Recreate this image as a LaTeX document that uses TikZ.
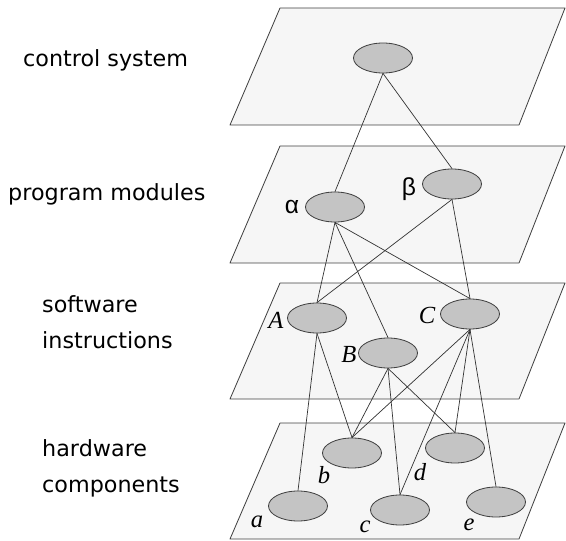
\documentclass[tikz,border=0pt]{standalone}
\usepackage{fontspec}
\setmainfont{DejaVu Sans}
\newfontfamily\tagfont{Liberation Serif}
\newfontfamily\greekfont{Liberation Sans}
\usepackage{tkz-euclide}
\usepackage{tikz}
\usetikzlibrary{shapes.geometric}

\tikzset{
  plane/.style={draw=black!75, fill=gray!7, line width=0.7pt},
  comp/.style={ellipse, draw=black!75, fill=gray!46, line width=0.7pt,
    minimum width=1.77cm, minimum height=0.9cm, inner sep=0pt},
  link/.style={color=black!80, line width=0.6pt},
  layer/.style={font=\fontsize{19}{30.6}\selectfont, align=left, anchor=west, inner sep=0pt},
  tag/.style={font=\tagfont\itshape\fontsize{21}{24}\selectfont, inner sep=0pt},
  greek/.style={font=\greekfont\fontsize{21}{24}\selectfont, inner sep=0pt}
}

\begin{document}
\begin{tikzpicture}[x=0.03cm, y=-0.03cm]
    \useasboundingbox (0,0) rectangle (566,541);
    % the four planes
    \tkzDefPoints{230/125/Pa,519/125/Pb,565/8/Pc,280/8/Pd}
    \tkzDefPoints{230/263/Qa,519/263/Qb,565/146/Qc,280/146/Qd}
    \tkzDefPoints{230/399/Ra,519/399/Rb,565/283/Rc,280/283/Rd}
    \tkzDefPoints{230/539/Sa,519/539/Sb,565/423/Sc,280/423/Sd}
    \tkzDrawPolygon[plane](Pa,Pb,Pc,Pd)
    \tkzDrawPolygon[plane](Qa,Qb,Qc,Qd)
    \tkzDrawPolygon[plane](Ra,Rb,Rc,Rd)
    \tkzDrawPolygon[plane](Sa,Sb,Sc,Sd)
    % layer names
    \node[layer] (lctrl) at (23,60) {control system};
    \node[layer] (lprog) at (8,194) {program modules};
    \node[layer] (lsoft) at (42,322) {software\\instructions};
    \node[layer] (lhard) at (42,468) {hardware\\components};
    % components
    \node[comp] (sys) at (383,58) {};
    \node[comp] (alpha) at (335,207) {};
    \node[comp] (beta) at (452,184) {};
    \node[comp] (A) at (317,318) {};
    \node[comp] (B) at (388,353) {};
    \node[comp] (C) at (470,314) {};
    \node[comp] (a) at (298,506) {};
    \node[comp] (b) at (352,453) {};
    \node[comp] (c) at (400,510) {};
    \node[comp] (d) at (455,448) {};
    \node[comp] (e) at (496,502) {};
    % letters
    \node[greek] (talpha) at (292,207) {α};
    \node[greek] (tbeta) at (409,189) {β};
    \node[tag] (tA) at (276,320) {A};
    \node[tag] (tB) at (349,354) {B};
    \node[tag] (tC) at (427,315) {C};
    \node[tag] (ta) at (257,522) {a};
    \node[tag] (tb) at (324,475) {b};
    \node[tag] (tc) at (365,527) {c};
    \node[tag] (td) at (420,472) {d};
    \node[tag] (te) at (469,525) {e};
    % links
    \tkzDrawSegments[link](sys.south,alpha.north sys.south,beta.north)
    \tkzDrawSegments[link](alpha.south,A.north alpha.south,B.north alpha.south,C.north)
    \tkzDrawSegments[link](beta.south,A.north beta.south,C.north)
    \tkzDrawSegments[link](A.south,a.north A.south,b.north)
    \tkzDrawSegments[link](B.south,b.north B.south,c.north B.south,d.north)
    \tkzDrawSegments[link](C.south,b.north C.south,c.north C.south,d.north C.south,e.north)
\end{tikzpicture}
\end{document}
